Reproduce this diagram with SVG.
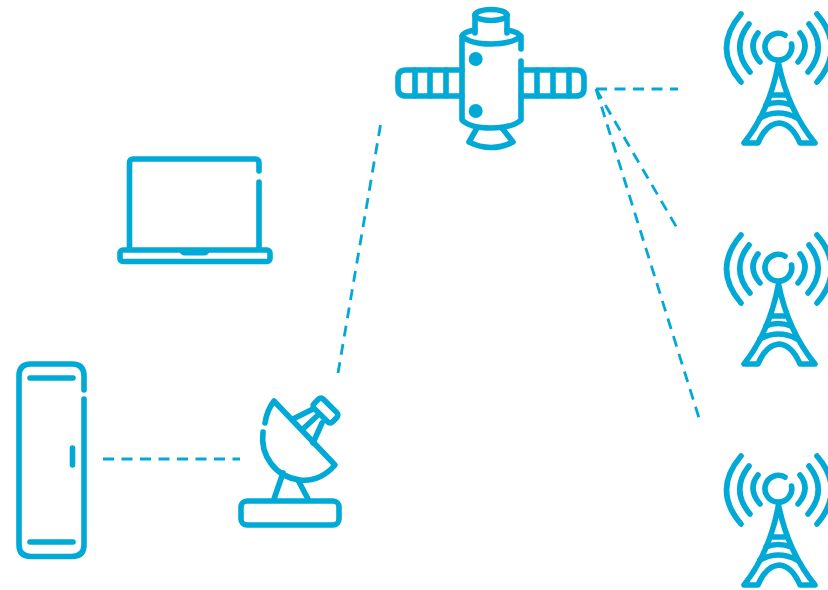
<svg xmlns="http://www.w3.org/2000/svg" width="828" height="590" viewBox="0 0 828 590">
<style>
.i{fill:none;stroke:#00a9d6;stroke-width:5.600;stroke-linecap:round;stroke-linejoin:round}
.f{fill:#00a9d6}
.d{fill:none;stroke:#00a9d6;stroke-width:2.800;stroke-dasharray:11 7.500}
</style>
<defs>
<g id="tower">
<path class="i" d="M785 35.100A13.400 13.400 0 1 0 791.500 44"/>
<path class="i" d="M758 33Q747 47 760 62M749 24Q730 48 750 72M741 14Q712 48 741 82"/>
<path class="i" d="M800 33Q811 47 798 62M809 24Q828 48 808 72M817 14Q846 48 817 82"/>
<path class="i" d="M778.500 63Q770 110 744 143H758Q766 124 779 123Q792 124 800 143H815Q788 110 778.500 63"/>
<path class="i" d="M771 95H787M766 105Q778 100 791 105M760 118Q778 108 797 118"/>
</g>
</defs>
<g id="connectors">
<path class="d" d="M103 459H240"/>
<path class="d" d="M338 373L381 122"/>
<path class="d" d="M596 89H678"/>
<path class="d" d="M596 89L677 228"/>
<path class="d" d="M596 89L699 418"/>
</g>
<g id="satellite">
<ellipse class="i" cx="491" cy="15" rx="16" ry="5.500"/>
<path class="i" d="M475 15V33M507 15V33"/>
<path class="i" d="M475 30Q462 32 462 37V120Q470 128 491 128Q512 128 521 120V61M521 49V37Q519 32 507 30M462 36Q470 44 491 44Q512 44 521 36"/>
<path class="i" d="M462 70H406Q398 70 398 78V88Q398 96 406 96H462M521 70H576Q584 70 584 78V88Q584 96 576 96H521"/>
<path class="i" d="M415 70V96M430 70V96M446 70V96M537 70V96M553 70V96M569 70V96"/>
<circle class="f" cx="475.700" cy="59" r="7"/>
<circle class="f" cx="475.700" cy="111" r="7"/>
<path class="i" d="M477 128L469 142Q491 153 513 142L502 128"/>
</g>
<g id="laptop">
<path class="i" d="M129.500 248V163Q129.500 159 133.500 159H255Q259 159 259 163V171M259 182V248"/>
<rect class="i" x="120" y="250" width="150" height="11.500" rx="3"/>
<path class="f" d="M180 250H209V253Q207 255.500 204 255.500H185Q182 255.500 180 253Z"/>
</g>
<g id="server">
<path class="i" d="M84 390V376Q84 364 72 364H31Q19 364 19 376V544.500Q19 556.500 31 556.500H72Q84 556.500 84 544.500V399"/>
<path class="i" d="M30 378H73M30 542H73M72.500 448V465"/>
</g>
<g id="dish">
<path class="i" d="M265 423Q267 410 274 401L335 465Q320 482 300 480C275 477 260 455 263 432"/>
<path class="i" d="M283 473L274 499M298 480L308 499"/>
<rect class="i" x="241" y="501" width="98" height="24" rx="6"/>
<rect class="i" x="-13" y="-6.500" width="26" height="13" rx="3.500" transform="translate(325.500 410.500) rotate(45)"/>
<path class="i" d="M313 409L293 419M317 416L304 428M322 423L313 443"/>
</g>
<g id="tower-1"><use href="#tower"/></g>
<g id="tower-2"><use href="#tower" y="221"/></g>
<g id="tower-3"><use href="#tower" y="442"/></g>
</svg>
